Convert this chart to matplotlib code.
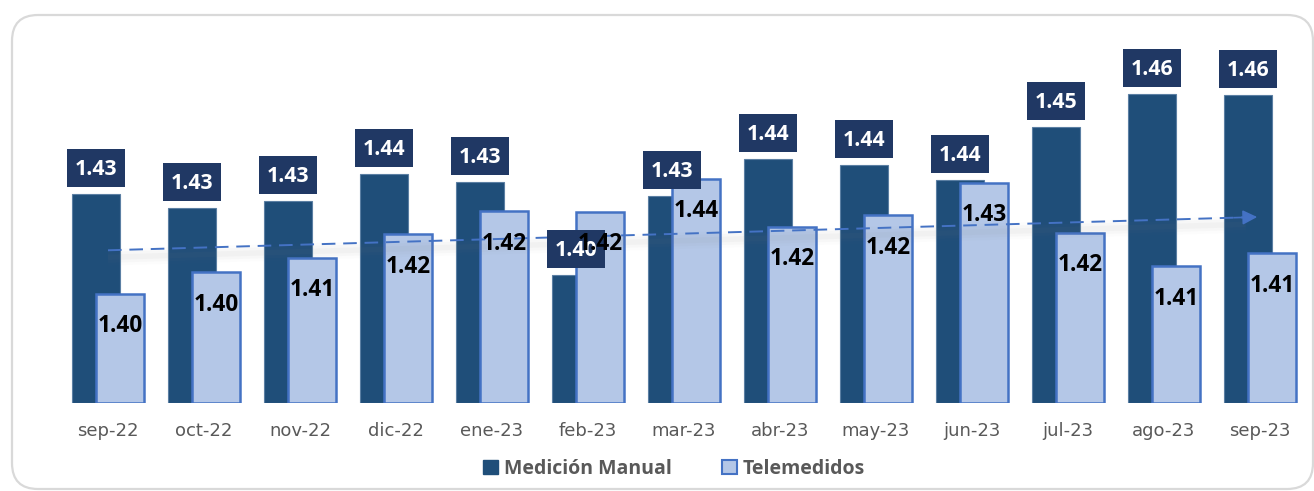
import numpy as np
import matplotlib
matplotlib.use("Agg")
import matplotlib.pyplot as plt
from matplotlib.patches import FancyBboxPatch, Rectangle, Patch
import matplotlib.transforms as mtransforms

# ---------------- data ----------------
months = ["sep-22", "oct-22", "nov-22", "dic-22", "ene-23", "feb-23", "mar-23",
          "abr-23", "may-23", "jun-23", "jul-23", "ago-23", "sep-23"]
manual = [1.4305, 1.4257, 1.4283, 1.4373, 1.4346, 1.4030, 1.4298,
          1.4426, 1.4405, 1.4352, 1.4533, 1.4647, 1.4641]
telemed = [1.3966, 1.4040, 1.4088, 1.4169, 1.4247, 1.4245, 1.4357,
           1.4194, 1.4234, 1.4344, 1.4174, 1.4060, 1.4104]
series_names = ["Medición Manual", "Telemedidos"]

# ---------------- style ----------------
DARK = "#1F4E79"
DARK_EDGE = "#5B7FA3"
LABEL_BOX = "#203864"
LIGHT = "#B4C7E7"
LIGHT_EDGE = "#4472C4"
GRAY_TXT = "#595959"
FONT = "Open Sans"

W, H = 1314, 491
fig = plt.figure(figsize=(W / 100, H / 100), dpi=100)

# background frame (pixel coordinates)
bg = fig.add_axes([0, 0, 1, 1])
bg.set_xlim(0, W)
bg.set_ylim(H, 0)
bg.axis("off")
bg.add_patch(FancyBboxPatch((12, 15), 1301, 474,
                            boxstyle="round,pad=0,rounding_size=26",
                            facecolor="white", edgecolor="#D9D9D9", lw=1.6))

# main axes
base_px, top_px = 403, 60
ax = fig.add_axes([0, (H - base_px) / H, 1, (base_px - top_px) / H])
ax.patch.set_alpha(0)
ymin = 1.3595
per_px = 0.00034
ax.set_ylim(ymin, ymin + (base_px - top_px) * per_px)
ax.set_xlim(-108 / 96, (W - 108) / 96)
for s in ax.spines.values():
    s.set_visible(False)
ax.set_yticks([])

x = np.arange(len(months))
bw = 0.5
off = 0.125

ax.bar(x - off, np.array(manual) - ymin, bw, bottom=ymin, color=DARK,
       edgecolor=DARK_EDGE, linewidth=0.8, zorder=2)
ax.bar(x + off, np.array(telemed) - ymin, bw, bottom=ymin, color=LIGHT,
       edgecolor=LIGHT_EDGE, linewidth=1.8, zorder=3)

# trend line (linear fit of Telemedidos)
coef = np.polyfit(x, telemed, 1)
xs = np.array([0.0, 11.85])
ys = np.polyval(coef, xs)
for lw_, a_ in [(12, 0.02), (8, 0.035), (4, 0.045)]:
    tr = mtransforms.offset_copy(ax.transData, fig=fig, x=0, y=-7, units="dots")
    ax.plot(xs, ys, color="#808080", lw=lw_, alpha=a_, transform=tr,
            solid_capstyle="butt", zorder=4)
ax.plot(xs, ys, color=LIGHT_EDGE, lw=1.4, ls=(0, (7, 4)), zorder=5)
ax.annotate("", xy=(12.0, np.polyval(coef, 12.0)), xytext=(11.7, np.polyval(coef, 11.7)),
            arrowprops=dict(arrowstyle="-|>", color=LIGHT_EDGE, lw=1.2,
                            mutation_scale=22), zorder=5)

# data labels
box_w = 58 / 96
box_h = 38 * per_px
gap = 7 * per_px
for xi, v in zip(x, manual):
    bx = xi - off
    b0 = v + gap
    ax.add_patch(Rectangle((bx - box_w / 2, b0), box_w, box_h, clip_on=False,
                           facecolor=LABEL_BOX, edgecolor="none", zorder=6))
    ax.text(bx, b0 + 12 * per_px, f"{v:.2f}", ha="center", va="baseline",
            color="white", fontsize=15.3, fontweight="bold", family=FONT, zorder=7)

for xi, v in zip(x, telemed):
    ax.text(xi + off, v - 38.5 * per_px, f"{v:.2f}", ha="center", va="baseline",
            color="black", fontsize=16.3, fontweight="bold", family=FONT, zorder=8)

ax.set_xticks(x)
ax.set_xticklabels(months, fontsize=13, color=GRAY_TXT, family="DejaVu Sans")
ax.tick_params(axis="x", length=0, pad=14)

# legend
handles = [Patch(facecolor=DARK, edgecolor=DARK, label=series_names[0]),
           Patch(facecolor=LIGHT, edgecolor=LIGHT_EDGE, linewidth=1.5, label=series_names[1])]
leg = fig.legend(handles=handles, loc="center", bbox_to_anchor=(674 / W, 1 - 469 / H),
                 ncol=2, frameon=False, handlelength=0.75, handleheight=0.75,
                 handletextpad=0.3, columnspacing=2.6,
                 prop={"family": FONT, "weight": "bold", "size": 14})
for t in leg.get_texts():
    t.set_color(GRAY_TXT)

fig.savefig("out.png", dpi=100)
